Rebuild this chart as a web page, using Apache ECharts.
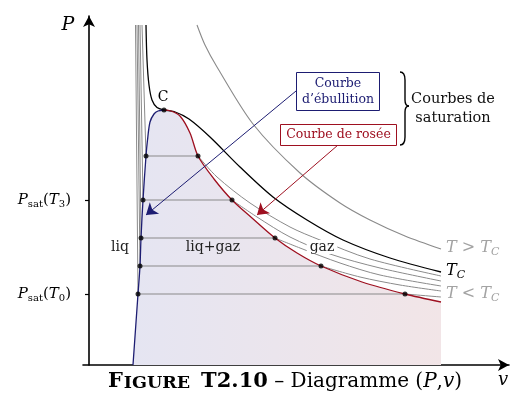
<!DOCTYPE html>
<html>
<head>
<meta charset="utf-8">
<script src="https://cdn.jsdelivr.net/npm/echarts@6/dist/echarts.min.js"></script>
<style>
html, body { margin: 0; padding: 0; background: #fff; }
#chart { width: 524px; height: 397px; }
</style>
</head>
<body>
<div id="chart"></div>
<script>
// v : volume massique, P : pression (unités arbitraires)
var topP = 34.0;                               // haut des isothermes
var psat = [7.1, 9.9, 12.7, 16.5, 20.9];       // paliers T0..T4
var liqTopV = [4.65, 4.8, 4.95, 5.1, 5.3];
var bubbleV = [4.9, 5.1, 5.2, 5.4, 5.7];
var dewV = [31.6, 23.2, 18.6, 14.3, 10.9];

// partie vapeur de chaque isotherme (depuis le point de rosée)
var gasV = [
    [31.6, 33.4, 35.2],
    [23.2, 27.1, 31.1, 35.2],
    [18.6, 21.1, 25.1, 29.1, 35.2],
    [14.3, 16.8, 20.1, 24.1, 29.1, 35.2],
    [10.9, 12.8, 16.1, 20.1, 23.1, 28.1, 35.2]
];
var gasP = [
    [7.1, 6.95, 6.8],
    [9.9, 8.8, 8.0, 7.4],
    [12.7, 11.7, 10.2, 9.0, 7.9],
    [16.5, 14.8, 12.8, 11.1, 9.7, 8.4],
    [20.9, 18.8, 16.2, 13.8, 12.5, 10.6, 8.9]
];

// isotherme critique
var critV = [5.7, 5.8, 6.0, 6.3, 6.8, 7.5, 8.5, 10.0, 12.1, 15.1, 18.4, 21.8, 25.4, 30.1, 35.2];
var critP = [34.0, 30.5, 28.0, 26.5, 25.75, 25.5, 25.35, 24.6, 22.8, 19.8, 16.8, 14.5, 12.5, 10.7, 9.3];
// isotherme T > Tc
var hotV = [10.8, 11.6, 12.8, 16.4, 21.1, 25.1, 28.1, 31.6, 35.2];
var hotP = [34.0, 32.0, 29.8, 24.1, 19.2, 16.2, 14.5, 12.9, 11.6];

// courbe d'ébullition et courbe de rosée
var liqCurveV = [4.4, 4.9, 5.1, 5.2, 5.4, 5.7, 5.85, 6.1, 6.5, 6.9, 7.5];
var liqCurveP = [0, 7.1, 9.9, 12.7, 16.5, 20.9, 22.5, 24.3, 25.1, 25.4, 25.5];
var dewCurveV = [7.5, 8.2, 9.1, 10.1, 10.9, 12.5, 14.3, 16.3, 18.6, 20.8, 23.2, 27.3, 31.6, 35.2];
var dewCurveP = [25.5, 25.4, 24.9, 23.2, 20.9, 18.6, 16.5, 14.7, 12.7, 11.2, 9.9, 8.3, 7.1, 6.3];

var pointC = [7.5, 25.5];
var tickIdx = [0, 3];   // P_sat(T0), P_sat(T3)

var SERIF = 'DejaVu Serif';
var GRAY = '#8a8a8a';
var NAVY = '#1d1d72';
var RED = '#9e1020';
var SMOOTH = 0.3;

function pts(vs, ps) {
    var out = [];
    for (var i = 0; i < vs.length; i++) {
        out.push([vs[i], ps[i]]);
    }
    return out;
}

function curve(data, color, width, smooth) {
    return {
        type: 'line',
        data: data,
        symbol: 'none',
        smooth: smooth,
        lineStyle: { color: color, width: width },
        silent: true,
        z: 3
    };
}

var series = [];

// zone liquide + vapeur (dégradé)
series.push({
    type: 'line',
    data: pts(liqCurveV.concat(dewCurveV.slice(1)), liqCurveP.concat(dewCurveP.slice(1))),
    symbol: 'none',
    smooth: SMOOTH,
    lineStyle: { width: 0 },
    areaStyle: {
        opacity: 1,
        color: new echarts.graphic.LinearGradient(0, 0, 1, 0, [
            { offset: 0, color: '#e5e5f2' },
            { offset: 1, color: '#f2e5e7' }
        ])
    },
    silent: true,
    z: 1
});

for (var i = 0; i < psat.length; i++) {
    series.push(curve([[liqTopV[i], topP], [bubbleV[i], psat[i]]], GRAY, 1, false));
    series.push(curve([[bubbleV[i], psat[i]], [dewV[i], psat[i]]], GRAY, 1.1, false));
    series.push(curve(pts(gasV[i], gasP[i]), GRAY, 1, SMOOTH));
}

series.push(curve(pts(hotV, hotP), GRAY, 1.1, SMOOTH));
series.push(curve(pts(critV, critP), '#000', 1.3, SMOOTH));

var blue = curve(pts(liqCurveV, liqCurveP), NAVY, 1.3, SMOOTH);
blue.z = 4;
blue.markLine = {
    silent: true,
    animation: false,
    symbol: ['none', 'arrow'],
    symbolSize: 11,
    label: { show: false },
    lineStyle: { color: NAVY, width: 1, type: 'solid' },
    data: [[{ coord: [20.7, 27.4] }, { coord: [5.7, 15.0] }]]
};
series.push(blue);

var red = curve(pts(dewCurveV, dewCurveP), RED, 1.3, SMOOTH);
red.z = 4;
red.markLine = {
    silent: true,
    animation: false,
    symbol: ['none', 'arrow'],
    symbolSize: 11,
    label: { show: false },
    lineStyle: { color: RED, width: 1, type: 'solid' },
    data: [[{ coord: [24.9, 22.0] }, { coord: [16.8, 15.0] }]]
};
series.push(red);

var dots = [pointC];
for (var k = 0; k < psat.length; k++) {
    dots.push([bubbleV[k], psat[k]]);
    dots.push([dewV[k], psat[k]]);
}
series.push({
    type: 'scatter',
    data: dots,
    symbolSize: 5,
    itemStyle: { color: '#000' },
    silent: true,
    z: 6
});

var richT = {
    i: { fontFamily: SERIF, fontStyle: 'italic', fontSize: 16 },
    n: { fontFamily: SERIF, fontSize: 16 },
    si: { fontFamily: SERIF, fontStyle: 'italic', fontSize: 11, padding: [9, 0, 0, 0] }
};

function tlabel(x, y, str, color) {
    var r = {};
    for (var key in richT) {
        r[key] = Object.assign({}, richT[key], { fill: color });
    }
    return {
        type: 'text', x: x, y: y, z: 100,
        style: { text: str, rich: r, fill: color, align: 'left', verticalAlign: 'middle' }
    };
}

function bez(p, c1, c2, q) {
    return {
        type: 'bezierCurve', z: 100,
        shape: { x1: p[0], y1: p[1], cpx1: c1[0], cpy1: c1[1], cpx2: c2[0], cpy2: c2[1], x2: q[0], y2: q[1] },
        style: { fill: 'none', stroke: '#000', lineWidth: 1.4 }
    };
}
function seg(p, q) {
    return {
        type: 'line', z: 100,
        shape: { x1: p[0], y1: p[1], x2: q[0], y2: q[1] },
        style: { stroke: '#000', lineWidth: 1.4 }
    };
}

var option = {
    animation: false,
    grid: { left: 83, top: 16, width: 426, height: 349 },
    xAxis: {
        type: 'value',
        min: -0.6,
        max: 42.0,
        axisLine: {
            show: true,
            symbol: ['none', 'arrow'],
            symbolSize: [9, 11],
            lineStyle: { color: '#000', width: 1.6 }
        },
        axisTick: { show: false },
        axisLabel: { show: false },
        splitLine: { show: false }
    },
    yAxis: {
        type: 'value',
        min: 0,
        max: 34.9,
        axisLine: {
            show: true,
            onZero: true,
            symbol: ['none', 'arrow'],
            symbolSize: [9, 11],
            lineStyle: { color: '#000', width: 1.6 }
        },
        axisTick: {
            show: true,
            length: 4,
            customValues: tickIdx.map(function (j) { return psat[j]; }),
            lineStyle: { color: '#000', width: 1.2 }
        },
        axisLabel: {
            show: true,
            margin: 12,
            customValues: tickIdx.map(function (j) { return psat[j]; }),
            formatter: function (val) {
                var j = psat.indexOf(val);
                return '{i|P}{s|sat}{n|(}{i|T}{s|' + j + '}{n|)}';
            },
            rich: {
                i: { fontFamily: SERIF, fontStyle: 'italic', fontSize: 15, color: '#000' },
                n: { fontFamily: SERIF, fontSize: 15, color: '#000' },
                s: { fontFamily: SERIF, fontSize: 10, color: '#000', padding: [9, 0, 0, 0] }
            }
        },
        splitLine: { show: false }
    },
    series: series,
    graphic: [
        { type: 'text', x: 68, y: 25, z: 100,
          style: { text: 'P', font: 'italic 19px "DejaVu Serif"', fill: '#000', align: 'center', verticalAlign: 'middle' } },
        { type: 'text', x: 503, y: 380, z: 100,
          style: { text: 'v', font: 'italic 18px "DejaVu Serif"', fill: '#000', align: 'center', verticalAlign: 'middle' } },
        { type: 'text', x: 163, y: 97, z: 100,
          style: { text: 'C', font: '14px "DejaVu Serif"', fill: '#000', align: 'center', verticalAlign: 'middle' } },
        { type: 'text', x: 120, y: 247, z: 100,
          style: { text: 'liq', font: '14px "DejaVu Serif"', fill: '#222', align: 'center', verticalAlign: 'middle' } },
        { type: 'text', x: 213, y: 247, z: 100,
          style: { text: 'liq+gaz', font: '14px "DejaVu Serif"', fill: '#222', align: 'center', verticalAlign: 'middle' } },
        { type: 'text', x: 322, y: 247, z: 100,
          style: { text: 'gaz', font: '14px "DejaVu Serif"', fill: '#222', align: 'center', verticalAlign: 'middle',
                   backgroundColor: '#fff', padding: [0, 3] } },

        { type: 'rect', z: 100, shape: { x: 296.5, y: 72.5, width: 83, height: 38 },
          style: { fill: '#fff', stroke: NAVY, lineWidth: 1 } },
        { type: 'text', x: 338, y: 91.5, z: 101,
          style: { text: 'Courbe\nd\u2019\u00e9bullition', font: '12.5px "DejaVu Serif"', fill: NAVY,
                   align: 'center', verticalAlign: 'middle', lineHeight: 16 } },
        { type: 'rect', z: 100, shape: { x: 280.5, y: 124.5, width: 116, height: 21 },
          style: { fill: '#fff', stroke: RED, lineWidth: 1 } },
        { type: 'text', x: 338.5, y: 135, z: 101,
          style: { text: 'Courbe de ros\u00e9e', font: '12.5px "DejaVu Serif"', fill: RED,
                   align: 'center', verticalAlign: 'middle' } },

        // accolade
        bez([400, 72], [404, 72], [405, 75], [405, 80]),
        seg([405, 80], [405, 100]),
        bez([405, 100], [405, 104], [406, 106], [409, 106]),
        bez([409, 106], [406, 106], [405, 108], [405, 112]),
        seg([405, 112], [405, 137]),
        bez([405, 137], [405, 142], [404, 145], [400, 145]),
        { type: 'text', x: 453, y: 109, z: 100,
          style: { text: 'Courbes de\nsaturation', font: '14.5px "DejaVu Serif"', fill: '#111',
                   align: 'center', verticalAlign: 'middle', lineHeight: 19 } },

        tlabel(446, 248, '{i|T}{n| > }{i|T}{si|C}', '#a3a3a3'),
        tlabel(446, 271, '{i|T}{si|C}', '#000'),
        tlabel(446, 294, '{i|T}{n| < }{i|T}{si|C}', '#a3a3a3'),

        { type: 'text', x: 285, y: 382, z: 100,
          style: {
              text: '{F|F}{sc|IGURE}{gap| }{b|T2.10}{n| \u2013 Diagramme (}{i|P}{n|,}{i|v}{n|)}',
              fill: '#000',
              align: 'center', verticalAlign: 'middle',
              rich: {
                  F: { fontFamily: SERIF, fontWeight: 'bold', fontSize: 21, fill: '#000', padding: [0, 1, 0, 0] },
                  sc: { fontFamily: SERIF, fontWeight: 'bold', fontSize: 17.5, fill: '#000', padding: [3, 0, 0, 0] },
                  gap: { fontFamily: SERIF, fontSize: 16, width: 11 },
                  b: { fontFamily: SERIF, fontWeight: 'bold', fontSize: 21, fill: '#000' },
                  n: { fontFamily: SERIF, fontSize: 20, fill: '#000' },
                  i: { fontFamily: SERIF, fontStyle: 'italic', fontSize: 20, fill: '#000' }
              }
          } }
    ]
};

var myChart = echarts.init(document.getElementById('chart'));
myChart.setOption(option);
</script>
</body>
</html>
